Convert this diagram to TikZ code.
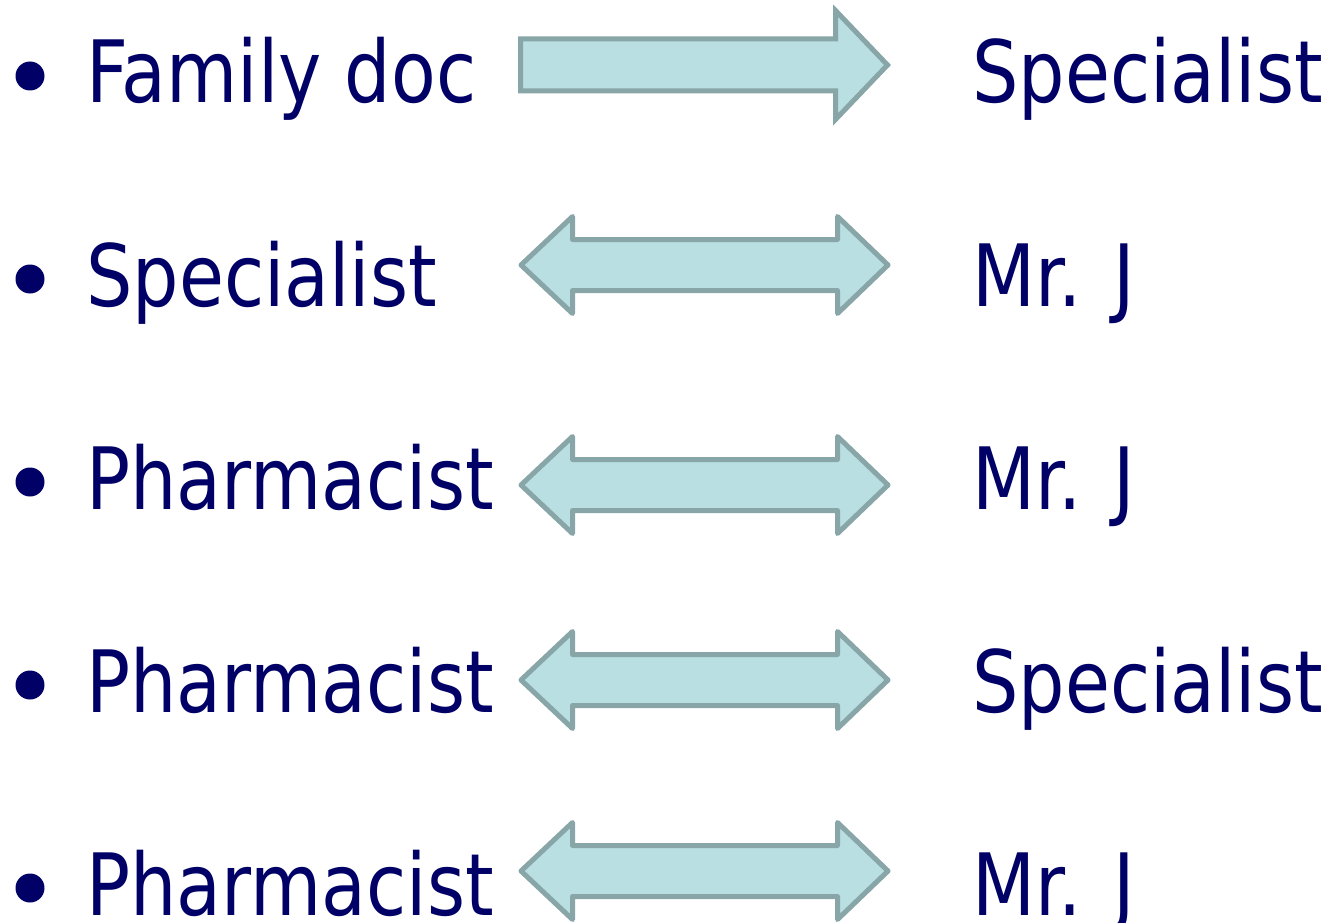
\documentclass[tikz,border=0pt]{standalone}
\usepackage{fontspec}
\setmainfont[FakeStretch=0.85]{DejaVu Sans}
\definecolor{cnavy}{HTML}{000066}
\definecolor{cfill}{HTML}{B9DFE2}
\definecolor{cedge}{HTML}{88A5A7}
\tikzset{
  every picture/.style={line width=5pt},
  item/.style={text=cnavy, font=\fontsize{86}{100}\selectfont, anchor=base west, inner sep=0pt, text depth=0pt},
  dot/.style={fill=cnavy},
  blockarrow/.style={draw=cedge, fill=cfill, line width=5pt},
  pics/oneway/.style={code={
    \draw[blockarrow, line join=miter] (-183.5,-26) -- (131.5,-26) -- (131.5,-54.5) -- (183.5,0)
      -- (131.5,54.5) -- (131.5,26) -- (-183.5,26) -- cycle;}},
  pics/twoway/.style={code={
    \draw[blockarrow, line join=round] (-183.5,0) -- (-132,-48.5) -- (-132,-25.5) -- (133,-25.5)
      -- (133,-48.5) -- (183.5,0) -- (133,48.5) -- (133,25.5) -- (-132,25.5) -- (-132,48.5) -- cycle;}},
}
\begin{document}
\begin{tikzpicture}[x=1pt, y=-1pt]
  \useasboundingbox (0,0) rectangle (1330,923);
  % row 1: family doc to specialist
  \fill[dot] (30,76) circle (14.5);
  \node[item] (fam) at (84,103) {Family doc};
  \pic (a1) at (704,65) {oneway};
  \node[item] (spec1) at (970,103) {Specialist};
  % row 2
  \fill[dot] (30,279) circle (14.5);
  \node[item] (spec2) at (84,306) {Specialist};
  \pic (a2) at (704.5,265) {twoway};
  \node[item] (mrj2) at (970,306) {Mr. J};
  % row 3
  \fill[dot] (30,482) circle (14.5);
  \node[item] (ph3) at (84,509) {Pharmacist};
  \pic (a3) at (704.5,485) {twoway};
  \node[item] (mrj3) at (970,509) {Mr. J};
  % row 4
  \fill[dot] (30,685) circle (14.5);
  \node[item] (ph4) at (84,712) {Pharmacist};
  \pic (a4) at (704.5,680) {twoway};
  \node[item] (spec4) at (970,712) {Specialist};
  % row 5
  \fill[dot] (30,888) circle (14.5);
  \node[item] (ph5) at (84,915) {Pharmacist};
  \pic (a5) at (704.5,871) {twoway};
  \node[item] (mrj5) at (970,915) {Mr. J};
\end{tikzpicture}
\end{document}
